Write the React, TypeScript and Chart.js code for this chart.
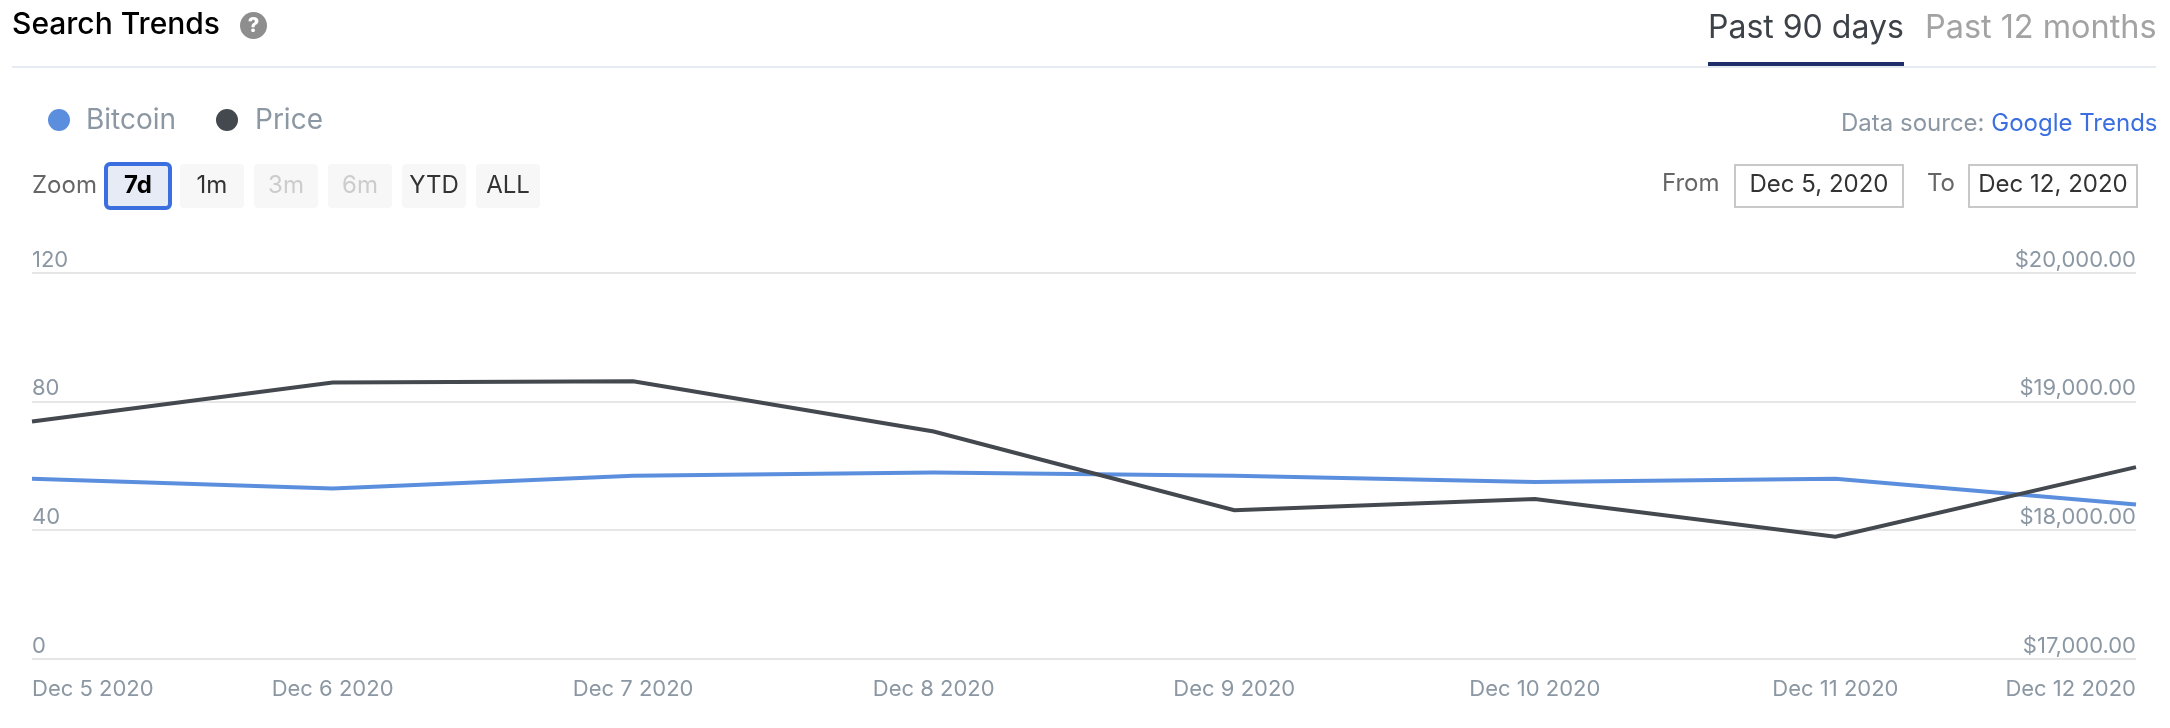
import React, { useEffect, useRef } from "react";
import { Chart, registerables } from "chart.js";

Chart.register(...registerables);

const categories = ["Dec 5 2020", "Dec 6 2020", "Dec 7 2020", "Dec 8 2020", "Dec 9 2020", "Dec 10 2020", "Dec 11 2020", "Dec 12 2020"];
const bitcoinValues = [56, 53, 57, 58, 57, 55, 56, 48];
const priceValues = [18846, 19149, 19159, 18768, 18157, 18243, 17950, 18491];
const zoomButtons = ["7d", "1m", "3m", "6m", "YTD", "ALL"];
const disabledButtons = ["3m", "6m"];

const FONT = "Inter, sans-serif";
const BLUE = "#5b8fde";
const DARK = "#44484f";
const GREY = "#8b97a3";

const abs = (x: number, y: number, extra: React.CSSProperties = {}): React.CSSProperties => ({
  position: "absolute",
  left: x,
  top: y,
  whiteSpace: "nowrap",
  ...extra,
});

export default function App() {
  const ref = useRef<HTMLCanvasElement | null>(null);

  useEffect(() => {
    const chart = new Chart(ref.current!, {
      type: "line",
      data: {
        labels: categories,
        datasets: [
          { label: "Bitcoin", data: bitcoinValues, yAxisID: "y", borderColor: BLUE, backgroundColor: BLUE, borderWidth: 4, pointRadius: 0, tension: 0, order: 2 },
          { label: "Price", data: priceValues, yAxisID: "y1", borderColor: DARK, backgroundColor: DARK, borderWidth: 4, pointRadius: 0, tension: 0, order: 1 },
        ],
      },
      options: {
        responsive: false,
        animation: false,
        layout: { padding: { left: 32, right: 34, top: 273, bottom: 0 } },
        plugins: { legend: { display: false }, tooltip: { enabled: false } },
        scales: {
          x: {
            offset: false,
            grid: { display: false, drawTicks: false },
            border: { display: false },
            afterFit: (s: any) => { s.height = 69; },
            ticks: { align: "inner", autoSkip: false, maxRotation: 0, minRotation: 0, padding: 17, color: GREY, font: { family: FONT, size: 22 } },
          },
          y: {
            position: "left",
            min: 0,
            max: 120,
            grid: { color: "#e6e6e6", lineWidth: 2, drawTicks: false },
            border: { display: false },
            afterFit: (s: any) => { s.width = 0; },
            ticks: { stepSize: 40, mirror: true, padding: 0, labelOffset: -13, color: GREY, font: { family: FONT, size: 22 } },
          },
          y1: {
            position: "right",
            min: 17000,
            max: 20000,
            grid: { display: false, drawTicks: false },
            border: { display: false },
            afterFit: (s: any) => { s.width = 0; },
            ticks: {
              stepSize: 1000,
              mirror: true,
              padding: 0,
              labelOffset: -13,
              color: GREY,
              font: { family: FONT, size: 22 },
              callback: (v: any) => "$" + Number(v).toLocaleString("en-US", { minimumFractionDigits: 2 }),
            },
          },
        },
      },
    } as any);
    return () => chart.destroy();
  }, []);

  return (
    <div style={{ position: "absolute", left: 0, top: 0, width: 2170, height: 728, overflow: "hidden", background: "#fff", fontFamily: FONT }}>
      <canvas ref={ref} width={2170} height={728} style={{ position: "absolute", left: 0, top: 0, display: "block" }} />

      <div style={abs(12, 5, { fontSize: 30, fontWeight: 500, color: "#000", lineHeight: "36px" })}>Search Trends</div>
      <div style={abs(240, 12, { width: 27, height: 27, borderRadius: "50%", background: "#8e8e8e", color: "#fff", fontSize: 20, fontWeight: 800, lineHeight: "27px", textAlign: "center" })}>?</div>

      <div style={abs(1708, 5, { fontSize: 32, color: "#3d4249", lineHeight: "44px" })}>Past 90 days</div>
      <div style={abs(1925, 5, { fontSize: 32.4, color: "#a3a3a3", lineHeight: "44px" })}>Past 12 months</div>
      <div style={abs(12, 66, { width: 2144, height: 2, background: "#e6eaf1" })} />
      <div style={abs(1708, 62, { width: 196, height: 4, background: "#1f2d6b" })} />

      <div style={abs(48, 109, { width: 22, height: 22, borderRadius: "50%", background: BLUE })} />
      <div style={abs(86, 102, { fontSize: 28, color: GREY, lineHeight: "34px" })}>Bitcoin</div>
      <div style={abs(216, 109, { width: 22, height: 22, borderRadius: "50%", background: DARK })} />
      <div style={abs(255, 102, { fontSize: 28, color: GREY, lineHeight: "34px" })}>Price</div>

      <div style={abs(1841, 108, { fontSize: 24, color: GREY, lineHeight: "30px" })}>
        Data source: <span style={{ color: "#3b6fe0" }}>Google Trends</span>
      </div>

      <div style={abs(32, 170, { fontSize: 24, color: "#666", lineHeight: "30px" })}>Zoom</div>
      {zoomButtons.map((b, i) => {
        const active = i === 0;
        const disabled = disabledButtons.includes(b);
        return (
          <div
            key={b}
            style={abs(active ? 104 : 180 + (i - 1) * 74, active ? 162 : 164, {
              width: active ? 68 : 64,
              height: active ? 48 : 44,
              boxSizing: "border-box",
              border: active ? "4px solid #3b6fe0" : "none",
              borderRadius: active ? 6 : 4,
              background: active ? "#e6ebf5" : "#f7f7f7",
              color: active ? "#000" : disabled ? "#cccccc" : "#333",
              fontWeight: active ? 700 : 400,
              fontSize: 24,
              lineHeight: active ? "37px" : "41px",
              textAlign: "center",
            })}
          >
            {b}
          </div>
        );
      })}

      <div style={abs(1662, 168, { fontSize: 24, color: "#666", lineHeight: "30px" })}>From</div>
      <div style={abs(1734, 164, { width: 170, height: 44, boxSizing: "border-box", border: "2px solid #c8c8c8", fontSize: 24, color: "#333", lineHeight: "36px", textAlign: "center" })}>Dec 5, 2020</div>
      <div style={abs(1927, 168, { fontSize: 24, color: "#666", lineHeight: "30px" })}>To</div>
      <div style={abs(1968, 164, { width: 170, height: 44, boxSizing: "border-box", border: "2px solid #c8c8c8", fontSize: 24, color: "#333", lineHeight: "36px", textAlign: "center" })}>Dec 12, 2020</div>
    </div>
  );
}
